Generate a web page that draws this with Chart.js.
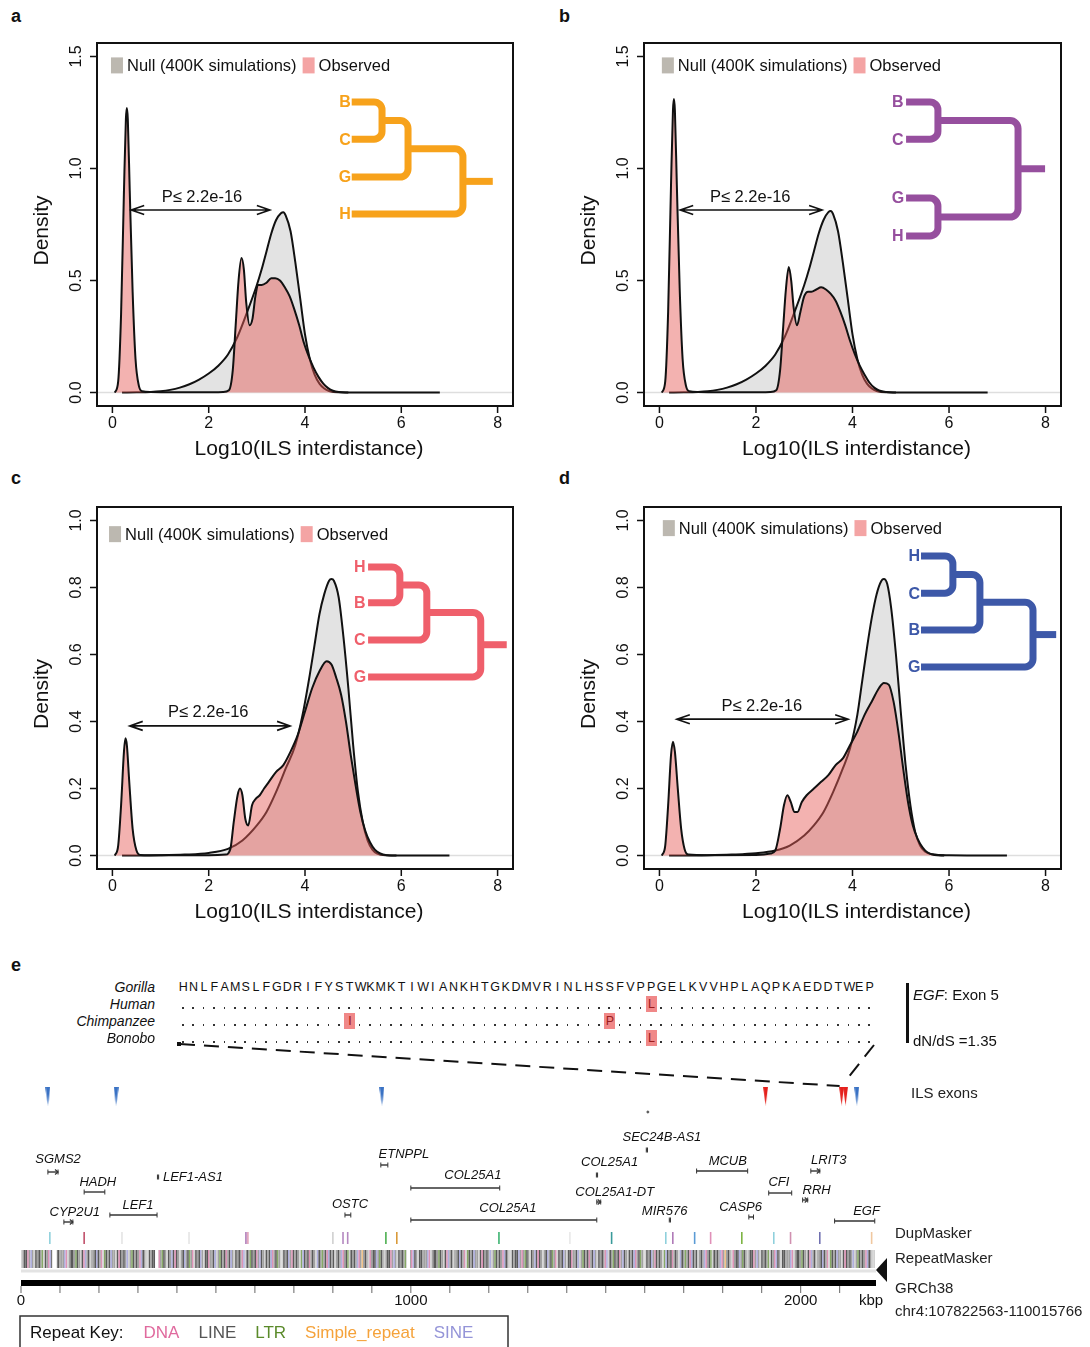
<!DOCTYPE html>
<html lang="en">
<head>
  <meta charset="UTF-8" />
  <title>ILS interdistance</title>
  <script src="https://cdn.jsdelivr.net/npm/chart.js"></script>
  <style>
    body {
      margin: 0;
      width: 1090px;
      height: 1347px;
      position: relative;
      overflow: hidden;
      background: #fff;
      color: #111;
      font-family: 'Liberation Sans', Arial, sans-serif;
    }
    canvas { position: absolute; }
    .tag { position: absolute; font-weight: bold; font-size: 18px; }
    .sp { position: absolute; left: 0; width: 155px; text-align: right; font-style: italic; font-size: 14px; line-height: 16px; }
    .cell { position: absolute; width: 10.4px; height: 16px; text-align: center; font-size: 12.5px; line-height: 16px; }
    .dot { position: absolute; left: 4px; top: 11px; width: 1.6px; height: 1.6px; background: #333; }
    .hl { background: #f08888; color: #9c1c1c; }
    .note { position: absolute; font-size: 15px; }
  </style>
</head>
<body>
  <div class="tag" style="left:11px;top:6px">a</div>
  <div class="tag" style="left:559px;top:6px">b</div>
  <div class="tag" style="left:11px;top:468px">c</div>
  <div class="tag" style="left:559px;top:468px">d</div>
  <div class="tag" style="left:11px;top:955px">e</div>

  <canvas id="ca" width="545" height="470" style="left:0;top:0"></canvas>
  <canvas id="cb" width="545" height="470" style="left:545px;top:0"></canvas>
  <canvas id="cc" width="545" height="465" style="left:0;top:470px"></canvas>
  <canvas id="cd" width="545" height="465" style="left:545px;top:470px"></canvas>
  <canvas id="ce" width="1090" height="307" style="left:0;top:1040px"></canvas>

  <div id="align"></div>
  <div style="position:absolute;left:906px;top:983px;width:3px;height:60px;background:#111"></div>
  <div class="note" style="left:913px;top:986px"><i>EGF</i>: Exon 5</div>
  <div class="note" style="left:913px;top:1032px">dN/dS =1.35</div>

  <script>
    // ---- density curves (x = log10 ILS interdistance) ----
    const obsAx = [0.05, 0.12, 0.18, 0.24, 0.28, 0.30, 0.32, 0.36, 0.42, 0.48, 0.55, 0.62, 0.8, 1.2, 1.6, 2.0, 2.3, 2.42, 2.5, 2.56, 2.62, 2.68, 2.73, 2.78, 2.85, 2.91, 2.97, 3.03, 3.1, 3.2, 3.3, 3.38, 3.48, 3.58, 3.68, 3.78, 3.88, 3.98, 4.08, 4.18, 4.28, 4.38, 4.48, 4.58, 4.7, 4.9];
    const obsAy = [0, 0.05, 0.35, 0.9, 1.22, 1.27, 1.22, 0.9, 0.45, 0.15, 0.03, 0.006, 0.002, 0.001, 0.001, 0.001, 0.002, 0.01, 0.1, 0.3, 0.5, 0.6, 0.55, 0.4, 0.3, 0.33, 0.43, 0.48, 0.48, 0.49, 0.51, 0.51, 0.5, 0.47, 0.43, 0.37, 0.3, 0.22, 0.16, 0.11, 0.07, 0.04, 0.02, 0.008, 0.002, 0];
    const nullAx = [0.2, 0.5, 0.8, 1.0, 1.2, 1.4, 1.6, 1.8, 2.0, 2.2, 2.4, 2.6, 2.8, 3.0, 3.1, 3.2, 3.3, 3.4, 3.5, 3.55, 3.6, 3.7, 3.8, 3.9, 4.0, 4.1, 4.2, 4.3, 4.4, 4.5, 4.7, 5.0, 6.8];
    const nullAy = [0, 0.001, 0.003, 0.006, 0.012, 0.022, 0.037, 0.058, 0.085, 0.12, 0.17, 0.25, 0.36, 0.48, 0.55, 0.63, 0.71, 0.77, 0.8, 0.805, 0.79, 0.72, 0.58, 0.42, 0.26, 0.15, 0.08, 0.04, 0.018, 0.007, 0.001, 0.0003, 0];

    const obsBx = [0.05, 0.12, 0.18, 0.24, 0.28, 0.30, 0.32, 0.36, 0.42, 0.48, 0.55, 0.62, 0.8, 1.2, 1.6, 2.0, 2.3, 2.42, 2.5, 2.56, 2.62, 2.68, 2.73, 2.78, 2.85, 2.92, 3.0, 3.08, 3.15, 3.25, 3.35, 3.45, 3.55, 3.65, 3.75, 3.85, 3.95, 4.05, 4.15, 4.25, 4.35, 4.45, 4.55, 4.7, 4.9];
    const obsBy = [0, 0.05, 0.36, 0.93, 1.26, 1.31, 1.26, 0.93, 0.46, 0.15, 0.03, 0.006, 0.002, 0.001, 0.001, 0.001, 0.002, 0.01, 0.1, 0.28, 0.46, 0.56, 0.5, 0.38, 0.3, 0.36, 0.43, 0.45, 0.45, 0.46, 0.47, 0.46, 0.44, 0.41, 0.36, 0.3, 0.23, 0.17, 0.12, 0.08, 0.045, 0.022, 0.009, 0.002, 0];
    const nullBx = [0.2, 0.5, 0.8, 1.0, 1.2, 1.4, 1.6, 1.8, 2.0, 2.2, 2.4, 2.6, 2.8, 3.0, 3.1, 3.2, 3.3, 3.4, 3.5, 3.55, 3.6, 3.7, 3.8, 3.9, 4.0, 4.1, 4.2, 4.3, 4.4, 4.5, 4.7, 5.0, 6.8];
    const nullBy = [0, 0.001, 0.003, 0.006, 0.012, 0.022, 0.037, 0.058, 0.085, 0.12, 0.17, 0.25, 0.36, 0.48, 0.55, 0.63, 0.71, 0.77, 0.805, 0.81, 0.795, 0.72, 0.58, 0.42, 0.26, 0.15, 0.08, 0.04, 0.018, 0.007, 0.001, 0.0003, 0];

    const obsCx = [0.05, 0.12, 0.18, 0.24, 0.27, 0.30, 0.35, 0.42, 0.5, 0.58, 1.0, 2.0, 2.35, 2.45, 2.52, 2.6, 2.65, 2.7, 2.76, 2.82, 2.9, 2.98, 3.06, 3.15, 3.25, 3.4, 3.55, 3.7, 3.85, 4.0, 4.15, 4.3, 4.45, 4.55, 4.65, 4.75, 4.85, 4.95, 5.05, 5.15, 5.25, 5.35, 5.45, 5.55, 5.7, 5.9];
    const obsCy = [0, 0.03, 0.15, 0.31, 0.35, 0.33, 0.22, 0.08, 0.015, 0.002, 0.001, 0.001, 0.003, 0.02, 0.1, 0.18, 0.2, 0.18, 0.11, 0.09, 0.15, 0.17, 0.18, 0.2, 0.22, 0.25, 0.27, 0.31, 0.36, 0.43, 0.5, 0.55, 0.58, 0.57, 0.53, 0.48, 0.4, 0.3, 0.21, 0.13, 0.075, 0.04, 0.018, 0.007, 0.001, 0];
    const nullCx = [0.2, 1.0, 1.5, 2.0, 2.4, 2.7, 3.0, 3.2, 3.4, 3.6, 3.8, 3.95, 4.1, 4.2, 4.3, 4.4, 4.5, 4.55, 4.6, 4.7, 4.8, 4.9, 5.0, 5.1, 5.2, 5.3, 5.4, 5.5, 5.7, 6.0, 7.0];
    const nullCy = [0, 0.001, 0.003, 0.008, 0.02, 0.045, 0.09, 0.13, 0.19, 0.26, 0.33, 0.42, 0.54, 0.63, 0.72, 0.78, 0.82, 0.825, 0.82, 0.77, 0.65, 0.5, 0.33, 0.19, 0.1, 0.045, 0.018, 0.006, 0.001, 0.0003, 0];

    const obsDx = [0.05, 0.12, 0.18, 0.24, 0.28, 0.32, 0.38, 0.45, 0.52, 0.6, 1.0, 2.0, 2.3, 2.4, 2.5, 2.58, 2.65, 2.72, 2.8, 2.86, 2.95, 3.05, 3.2, 3.35, 3.5, 3.65, 3.8, 3.95, 4.1, 4.25, 4.4, 4.55, 4.65, 4.75, 4.85, 4.95, 5.05, 5.15, 5.25, 5.35, 5.45, 5.55, 5.7, 5.9];
    const obsDy = [0, 0.03, 0.15, 0.3, 0.34, 0.31, 0.2, 0.08, 0.02, 0.003, 0.001, 0.002, 0.006, 0.015, 0.08, 0.15, 0.18, 0.16, 0.13, 0.13, 0.16, 0.18, 0.2, 0.22, 0.24, 0.27, 0.29, 0.33, 0.37, 0.42, 0.46, 0.5, 0.515, 0.51, 0.46, 0.37, 0.26, 0.16, 0.09, 0.05, 0.025, 0.01, 0.002, 0];
    const nullDx = [0.2, 1.0, 1.5, 2.0, 2.4, 2.7, 3.0, 3.2, 3.4, 3.6, 3.8, 3.95, 4.1, 4.2, 4.3, 4.4, 4.5, 4.6, 4.65, 4.72, 4.8, 4.9, 5.0, 5.1, 5.2, 5.3, 5.4, 5.5, 5.65, 6.0, 7.2];
    const nullDy = [0, 0.001, 0.003, 0.007, 0.015, 0.03, 0.06, 0.09, 0.13, 0.19, 0.26, 0.32, 0.42, 0.52, 0.62, 0.71, 0.78, 0.82, 0.825, 0.81, 0.74, 0.6, 0.43, 0.27, 0.15, 0.07, 0.03, 0.012, 0.004, 0.001, 0];

    const xTicks = [0, 2, 4, 6, 8];
    const yTicksAB = [0, 0.5, 1.0, 1.5];
    const yTicksCD = [0, 0.2, 0.4, 0.6, 0.8, 1.0];
    const legendNames = ['Null (400K simulations)', 'Observed'];
    const pLabel = 'P\u2264 2.2e-16';

    // ---- panel e: genome track (kbp from chr4:107822563) ----
    const genomeKbp = 2193.2;
    const geneNames = ['SGMS2', 'HADH', 'LEF1-AS1', 'CYP2U1', 'LEF1', 'ETNPPL', 'COL25A1', 'OSTC', 'COL25A1', 'SEC24B-AS1', 'COL25A1', 'MCUB', 'LRIT3', 'COL25A1-DT', 'CFI', 'RRH', 'MIR576', 'CASP6', 'EGF'];
    const geneStart = [69, 162, 350, 110, 228, 923, 1000, 831, 1000, 1604, 1476, 1733, 2026, 1477, 1918, 2005, 1663, 1867, 2087];
    const geneEnd = [95, 215, 353, 133, 349, 941, 1228, 846, 1477, 1607, 1479, 1864, 2049, 1487, 1977, 2018, 1666, 1879, 2190];
    const geneStrand = [1, 0, 0, 1, 0, 0, 0, 0, 0, 0, 0, 0, 1, 1, 0, 1, 0, 0, 0];
    const ilsExonKbp = [69, 244, 926, 1910, 2105, 2115, 2144];
    const ilsExonRed = [false, false, false, true, true, true, false];
    const dupKbp = [74, 162, 259, 431, 577, 582, 800, 826, 838, 936, 964, 1226, 1408, 1515, 1654, 1672, 1728, 1769, 1849, 1931, 1974, 2049, 2182];
    const dupColor = ['#8fd0dc', '#c0506a', '#e4e4e4', '#e4e4e4', '#b07ab8', '#e0a0b8', '#d0d0d0', '#b488c0', '#b488c0', '#4caf50', '#d99a3a', '#3cb371', '#e8e8e8', '#3a9a9a', '#8fd0dc', '#b07ab8', '#5b9bd5', '#e090b8', '#7cb342', '#8fd0dc', '#d090b0', '#7070b0', '#f0c8a0'];
    const repeatSpans = [[0, 80], [92, 344], [352, 990], [998, 2190]];
    const rulerTicks = [0, 100, 200, 300, 400, 500, 600, 700, 800, 900, 1000, 1100, 1200, 1300, 1400, 1500, 1600, 1700, 1800, 1900, 2000, 2100];
    const rulerLabels = [0, 1000, 2000];
    const repeatKeyNames = ['DNA', 'LINE', 'LTR', 'Simple_repeat', 'SINE'];
    const repeatKeyColors = ['#e06a9e', '#555555', '#5a8a2a', '#f5a23a', '#9494d8'];

    // ---- EGF exon 5 alignment ----
    const species = ['Gorilla', 'Human', 'Chimpanzee', 'Bonobo'];
    const gorillaSeq = 'HNLFAMSLFGDRIFYSTWKMKTIWIANKHTGKDMVRINLHSSFVPPGELKVVHPLAQPKAEDDTWEP';
    const subRow = [1, 2, 2, 3];
    const subPos = [45, 16, 41, 45];
    const subAa = ['L', 'I', 'P', 'L'];

    const FONT = "'Liberation Sans', Arial, sans-serif";
    const pts = (xs, ys) => xs.map((x, i) => ({ x, y: ys[i] }));

    // rounded-corner cladogram, coordinates in data units
    function drawTree(ctx, X, Y, t) {
      ctx.save();
      ctx.strokeStyle = t.color;
      ctx.fillStyle = t.color;
      ctx.lineWidth = 7;
      ctx.font = 'bold 16px ' + FONT;
      ctx.textAlign = 'center';
      ctx.textBaseline = 'middle';
      const walk = n => {
        if (n.leaf) {
          ctx.fillText(n.leaf, X(t.labelX), Y(n.y) + 1);
          return { px: X(t.tipX), py: Y(n.y) };
        }
        const a = walk(n.kids[0]), b = walk(n.kids[1]);
        const jx = X(n.x);
        ctx.beginPath();
        ctx.moveTo(a.px, a.py);
        ctx.arcTo(jx, a.py, jx, b.py, 8);
        ctx.arcTo(jx, b.py, b.px, b.py, 8);
        ctx.lineTo(b.px, b.py);
        ctx.stroke();
        return { px: jx, py: (a.py + b.py) / 2 };
      };
      const r = walk(t.node);
      ctx.beginPath();
      ctx.moveTo(r.px, r.py);
      ctx.lineTo(X(t.rootEnd), r.py);
      ctx.stroke();
      ctx.restore();
    }

    function panelDecor(p) {
      return {
        id: 'panelDecor',
        beforeDatasetsDraw(chart) {
          const { ctx, chartArea: a, scales: { y } } = chart;
          ctx.save();
          ctx.strokeStyle = '#dedede';
          ctx.lineWidth = 1.5;
          ctx.beginPath();
          ctx.moveTo(a.left, y.getPixelForValue(0));
          ctx.lineTo(a.right, y.getPixelForValue(0));
          ctx.stroke();
          ctx.restore();
        },
        afterDraw(chart) {
          const { ctx, chartArea: a, scales: { x, y } } = chart;
          const X = v => x.getPixelForValue(v), Y = v => y.getPixelForValue(v);
          ctx.save();
          ctx.strokeStyle = '#111';
          ctx.fillStyle = '#111';
          ctx.lineWidth = 2;
          ctx.strokeRect(a.left, a.top, a.right - a.left, a.bottom - a.top);

          // R style axes
          ctx.lineWidth = 1.5;
          ctx.beginPath();
          xTicks.forEach(v => { ctx.moveTo(X(v), a.bottom); ctx.lineTo(X(v), a.bottom + 7); });
          p.yTicks.forEach(v => { ctx.moveTo(a.left, Y(v)); ctx.lineTo(a.left - 7, Y(v)); });
          ctx.stroke();
          ctx.font = '16px ' + FONT;
          ctx.textAlign = 'center';
          ctx.textBaseline = 'middle';
          xTicks.forEach(v => ctx.fillText(String(v), X(v), a.bottom + 18));
          p.yTicks.forEach(v => {
            ctx.save();
            ctx.translate(a.left - 20, Y(v));
            ctx.rotate(-Math.PI / 2);
            ctx.fillText(v.toFixed(1), 0, 0);
            ctx.restore();
          });
          ctx.font = '21px ' + FONT;
          ctx.fillText('Log10(ILS interdistance)', (a.left + a.right) / 2 + 4, a.bottom + 43);
          ctx.save();
          ctx.translate(a.left - 55, (a.top + a.bottom) / 2 + 6);
          ctx.rotate(-Math.PI / 2);
          ctx.fillText('Density', 0, 0);
          ctx.restore();

          // legend
          ctx.font = '16.5px ' + FONT;
          ctx.textAlign = 'left';
          let lx = X(p.legendX);
          const ly = Y(p.legendY);
          ['#bcb8b0', '#f4a4a4'].forEach((c, i) => {
            ctx.fillStyle = c;
            ctx.fillRect(lx, ly - 8, 12, 16);
            ctx.fillStyle = '#111';
            ctx.fillText(legendNames[i], lx + 16, ly + 1);
            lx += 16 + ctx.measureText(legendNames[i]).width + 6;
          });

          // P value arrow
          const ay = Y(p.arrowY), x0 = X(p.arrowFrom), x1 = X(p.arrowTo);
          ctx.strokeStyle = '#111';
          ctx.lineWidth = 1.6;
          ctx.beginPath();
          ctx.moveTo(x0, ay); ctx.lineTo(x1, ay);
          ctx.moveTo(x0 + 13, ay - 4.5); ctx.lineTo(x0, ay); ctx.lineTo(x0 + 13, ay + 4.5);
          ctx.moveTo(x1 - 13, ay - 4.5); ctx.lineTo(x1, ay); ctx.lineTo(x1 - 13, ay + 4.5);
          ctx.stroke();
          ctx.font = '16.5px ' + FONT;
          ctx.textAlign = 'center';
          ctx.fillText(pLabel, X(p.pTextX), Y(p.pTextY));
          ctx.restore();

          drawTree(ctx, X, Y, p.tree);
        }
      };
    }

    function densityChart(id, p) {
      return new Chart(document.getElementById(id), {
        type: 'line',
        data: {
          datasets: [
            { label: 'Observed', data: pts(p.obsX, p.obsY), fill: 'origin', backgroundColor: 'rgba(230, 95, 90, 0.48)', borderColor: '#111', borderWidth: 2, pointRadius: 0, cubicInterpolationMode: 'monotone' },
            { label: 'Null', data: pts(p.nullX, p.nullY), fill: 'origin', backgroundColor: '#e3e3e3', borderColor: '#111', borderWidth: 2, pointRadius: 0, cubicInterpolationMode: 'monotone' }
          ]
        },
        options: {
          animation: false,
          responsive: false,
          events: [],
          layout: { padding: p.pad, autoPadding: false },
          scales: {
            x: { type: 'linear', min: -0.32, max: 8.32, display: false },
            y: { type: 'linear', min: p.yMin, max: p.yMax, display: false }
          },
          plugins: { legend: { display: false }, tooltip: { enabled: false } }
        },
        plugins: [panelDecor(p)]
      });
    }

    densityChart('ca', {
      obsX: obsAx, obsY: obsAy, nullX: nullAx, nullY: nullAy,
      pad: { left: 97, top: 43, right: 32, bottom: 64 }, yMin: -0.06, yMax: 1.56, yTicks: yTicksAB,
      legendX: -0.03, legendY: 1.46, arrowFrom: 0.39, arrowTo: 3.27, arrowY: 0.815, pTextX: 1.86, pTextY: 0.87,
      tree: { color: '#f7a21b', labelX: 4.83, tipX: 4.97, rootEnd: 7.9,
        node: { x: 7.28, kids: [{ x: 6.14, kids: [{ x: 5.6, kids: [{ leaf: 'B', y: 1.297 }, { leaf: 'C', y: 1.131 }] }, { leaf: 'G', y: 0.962 }] }, { leaf: 'H', y: 0.797 }] } }
    });
    densityChart('cb', {
      obsX: obsBx, obsY: obsBy, nullX: nullBx, nullY: nullBy,
      pad: { left: 99, top: 43, right: 29, bottom: 64 }, yMin: -0.06, yMax: 1.56, yTicks: yTicksAB,
      legendX: 0.05, legendY: 1.46, arrowFrom: 0.43, arrowTo: 3.37, arrowY: 0.815, pTextX: 1.88, pTextY: 0.87,
      tree: { color: '#964f9e', labelX: 4.94, tipX: 5.11, rootEnd: 7.99,
        node: { x: 7.43, kids: [{ x: 5.77, kids: [{ leaf: 'B', y: 1.297 }, { leaf: 'C', y: 1.131 }] }, { x: 5.77, kids: [{ leaf: 'G', y: 0.868 }, { leaf: 'H', y: 0.699 }] }] } }
    });
    densityChart('cc', {
      obsX: obsCx, obsY: obsCy, nullX: nullCx, nullY: nullCy,
      pad: { left: 97, top: 37, right: 32, bottom: 66 }, yMin: -0.04, yMax: 1.04, yTicks: yTicksCD,
      legendX: -0.07, legendY: 0.959, arrowFrom: 0.36, arrowTo: 3.69, arrowY: 0.387, pTextX: 1.99, pTextY: 0.428,
      tree: { color: '#ef5f6b', labelX: 5.14, tipX: 5.31, rootEnd: 8.19,
        node: { x: 7.65, kids: [{ x: 6.53, kids: [{ x: 5.97, kids: [{ leaf: 'H', y: 0.861 }, { leaf: 'B', y: 0.754 }] }, { leaf: 'C', y: 0.643 }] }, { leaf: 'G', y: 0.533 }] } }
    });
    densityChart('cd', {
      obsX: obsDx, obsY: obsDy, nullX: nullDx, nullY: nullDy,
      pad: { left: 99, top: 37, right: 29, bottom: 66 }, yMin: -0.04, yMax: 1.04, yTicks: yTicksCD,
      legendX: 0.07, legendY: 0.977, arrowFrom: 0.36, arrowTo: 3.91, arrowY: 0.407, pTextX: 2.12, pTextY: 0.446,
      tree: { color: '#3d58a8', labelX: 5.28, tipX: 5.42, rootEnd: 8.22,
        node: { x: 7.74, kids: [{ x: 6.64, kids: [{ x: 6.08, kids: [{ leaf: 'H', y: 0.894 }, { leaf: 'C', y: 0.783 }] }, { leaf: 'B', y: 0.673 }] }, { leaf: 'G', y: 0.563 }] } }
    });

    // ---- alignment (HTML text) ----
    const alignEl = document.getElementById('align');
    const rowTop = [979, 996, 1013, 1030];
    species.forEach((name, r) => {
      const lab = document.createElement('div');
      lab.className = 'sp';
      lab.style.top = rowTop[r] + 'px';
      lab.textContent = name;
      alignEl.appendChild(lab);
      for (let i = 0; i < gorillaSeq.length; i++) {
        const c = document.createElement('div');
        c.className = 'cell';
        c.style.left = (178 + i * 10.4) + 'px';
        c.style.top = rowTop[r] + 'px';
        let k = -1;
        subRow.forEach((sr, j) => { if (sr === r && subPos[j] === i) k = j; });
        if (r === 0) c.textContent = gorillaSeq[i];
        else if (k >= 0) { c.textContent = subAa[k]; c.className = 'cell hl'; c.style.width = '11px'; }
        else { const d = document.createElement('div'); d.className = 'dot'; c.appendChild(d); }
        alignEl.appendChild(c);
      }
    });

    // ---- panel e track chart ----
    function exonMarker(color) {
      const c = document.createElement('canvas');
      c.width = 5; c.height = 19;
      const g = c.getContext('2d');
      g.fillStyle = color;
      g.beginPath(); g.moveTo(0, 0); g.lineTo(5, 0); g.lineTo(2.5, 19); g.closePath(); g.fill();
      return c;
    }
    function repeatPattern() {
      const code = 'gkglpgkkvgnkglgkkpgvglkgkgnlkgpvkglkkgggvplgkkgnkglkpvgklggkvkgplnkgkvgglkpkgkgvlgnkgkgpvkgllkgkkvgpgnkglkgvkpkglgkvgkngplkgkvglkkpggkvlgnkgkpgkvglkgkgpvlkgnkgkpgvkglkgkvpgkngllkgkvgpkgkglnvkgkpgkglvkgngkpvkgklgkgvpgknlkgkgvpgo';
      const pal = { k: '#5a5a5a', g: '#a2a2a2', l: '#d4d4d4', p: '#dc94b6', v: '#b0b0de', n: '#86a866', o: '#f2c488' };
      const c = document.createElement('canvas');
      c.width = code.length * 1.6; c.height = 20;
      const g = c.getContext('2d');
      for (let i = 0; i < code.length; i++) { g.fillStyle = pal[code[i]]; g.fillRect(i * 1.6, 0, 1.6, 20); }
      return document.getElementById('ce').getContext('2d').createPattern(c, 'repeat');
    }

    // vertical track positions (px from canvas top)
    const geneRow = [132, 152, 137, 182, 175, 125, 148, 175, 180, 110, 135, 131, 131, 162, 153, 160, 180, 177, 181];
    const labelX = [95, 197, 441, 138, 300, 982, 1159, 844, 1249, 1644, 1510, 1813, 2072, 1523, 1944, 2041, 1651, 1846, 2169];
    const labelRow = [119, 142, 137, 172, 165, 114, 135, 164, 168, 97, 122, 121, 120, 152, 142, 150, 171, 167, 171];
    const TRK = { exon: 56, dup: 198, rep: 219, gray: 231, bar: 243 };

    const eDatasets = geneNames.map((n, i) => ({
      type: 'line', showLine: true, clip: false,
      data: [{ x: geneStart[i], y: geneRow[i] }, { x: geneEnd[i], y: geneRow[i] }],
      borderColor: '#333', borderWidth: 1.4,
      pointStyle: 'line', pointRotation: 90, pointRadius: 2.5, pointBorderColor: '#333', pointBorderWidth: 1
    }));
    eDatasets.push({
      data: ilsExonKbp.map(v => ({ x: v, y: TRK.exon })), clip: false,
      pointStyle: ilsExonRed.map(r => exonMarker(r ? '#e5201c' : '#3a72c4')), pointRadius: 10
    });
    eDatasets.push({
      data: dupKbp.map(v => ({ x: v, y: TRK.dup })), clip: false,
      pointStyle: 'line', pointRotation: 90, pointRadius: 6, pointBorderColor: dupColor, pointBorderWidth: 1.6
    });
    const repData = [];
    repeatSpans.forEach(s => { repData.push({ x: s[0], y: TRK.rep }, { x: s[1], y: TRK.rep }, { x: s[1] + 1, y: null }); });
    eDatasets.push({ type: 'line', showLine: true, spanGaps: false, clip: false, data: repData, borderColor: repeatPattern(), borderWidth: 18, pointRadius: 0 });
    eDatasets.push({ type: 'line', showLine: true, clip: false, data: [{ x: 0, y: TRK.gray }, { x: genomeKbp, y: TRK.gray }], borderColor: '#e3e3e3', borderWidth: 3, pointRadius: 0 });
    eDatasets.push({ type: 'line', showLine: true, clip: false, data: [{ x: 0, y: TRK.bar }, { x: genomeKbp, y: TRK.bar }], borderColor: '#000', borderWidth: 6, pointRadius: 0 });
    eDatasets.push({ data: [{ x: 1608, y: 72 }], pointRadius: 1, backgroundColor: '#555', borderColor: '#555' });

    const trackDecor = {
      id: 'trackDecor',
      afterDraw(chart) {
        const { ctx, scales: { x, y } } = chart;
        const X = v => x.getPixelForValue(v), Y = v => y.getPixelForValue(v);
        ctx.save();
        ctx.strokeStyle = '#111';
        ctx.fillStyle = '#111';

        // ruler
        ctx.lineWidth = 1;
        ctx.strokeStyle = '#666';
        ctx.beginPath();
        rulerTicks.forEach(v => { ctx.moveTo(X(v), Y(TRK.bar + 3)); ctx.lineTo(X(v), Y(TRK.bar + 10)); });
        ctx.stroke();
        ctx.font = '15px ' + FONT;
        ctx.textAlign = 'center';
        ctx.textBaseline = 'middle';
        rulerLabels.forEach(v => ctx.fillText(String(v), X(v), Y(261)));
        ctx.fillText('kbp', X(genomeKbp) - 5, Y(261));

        // strand arrows and gene labels
        ctx.strokeStyle = '#333';
        ctx.lineWidth = 1.2;
        geneNames.forEach((n, i) => {
          if (geneStrand[i]) {
            const ex = X(geneEnd[i]), ey = Y(geneRow[i]);
            ctx.beginPath(); ctx.moveTo(ex - 3, ey - 2.5); ctx.lineTo(ex, ey); ctx.lineTo(ex - 3, ey + 2.5); ctx.stroke();
          }
        });
        ctx.font = 'italic 13px ' + FONT;
        geneNames.forEach((n, i) => ctx.fillText(n, X(labelX[i]), Y(labelRow[i])));

        // track names
        ctx.font = '15px ' + FONT;
        ctx.textAlign = 'left';
        ctx.fillStyle = '#222';
        ctx.fillText('ILS exons', 911, Y(54));
        ctx.fillText('DupMasker', 895, Y(194));
        ctx.fillText('RepeatMasker', 895, Y(219));
        ctx.fillText('GRCh38', 895, Y(249));
        ctx.fillText('chr4:107822563-110015766', 895, Y(272));

        // strand triangle at the end of the assembly bar
        const tx = X(genomeKbp);
        ctx.fillStyle = '#111';
        ctx.beginPath();
        ctx.moveTo(tx, Y(230)); ctx.lineTo(tx + 11, Y(218)); ctx.lineTo(tx + 11, Y(242)); ctx.closePath(); ctx.fill();

        // dashed zoom lines from the alignment to the EGF exon
        ctx.strokeStyle = '#111';
        ctx.lineWidth = 2;
        ctx.setLineDash([15, 9]);
        ctx.beginPath();
        ctx.moveTo(180, Y(4)); ctx.lineTo(X(ilsExonKbp[4]) - 2, Y(46));
        ctx.moveTo(874, Y(5)); ctx.lineTo(X(ilsExonKbp[4]) + 3, Y(42));
        ctx.stroke();
        ctx.setLineDash([]);
        ctx.fillRect(177, Y(2), 4, 4);

        // repeat key
        ctx.lineWidth = 1.5;
        ctx.strokeStyle = '#333';
        ctx.strokeRect(20, Y(276), 488, 40);
        ctx.font = '17px ' + FONT;
        ctx.fillStyle = '#111';
        ctx.fillText('Repeat Key:', 30, Y(293));
        let kx = 30 + ctx.measureText('Repeat Key:').width + 20;
        repeatKeyNames.forEach((n, i) => {
          ctx.fillStyle = repeatKeyColors[i];
          ctx.fillText(n, kx, Y(293));
          kx += ctx.measureText(n).width + 19;
        });
        ctx.restore();
      }
    };

    new Chart(document.getElementById('ce'), {
      type: 'scatter',
      data: { datasets: eDatasets },
      options: {
        animation: false,
        responsive: false,
        events: [],
        layout: { padding: { left: 21, right: 214, top: 0, bottom: 0 }, autoPadding: false },
        scales: {
          x: { type: 'linear', min: 0, max: genomeKbp, display: false },
          y: { type: 'linear', min: 0, max: 307, reverse: true, display: false }
        },
        plugins: { legend: { display: false }, tooltip: { enabled: false } }
      },
      plugins: [trackDecor]
    });
  </script>
</body>
</html>
